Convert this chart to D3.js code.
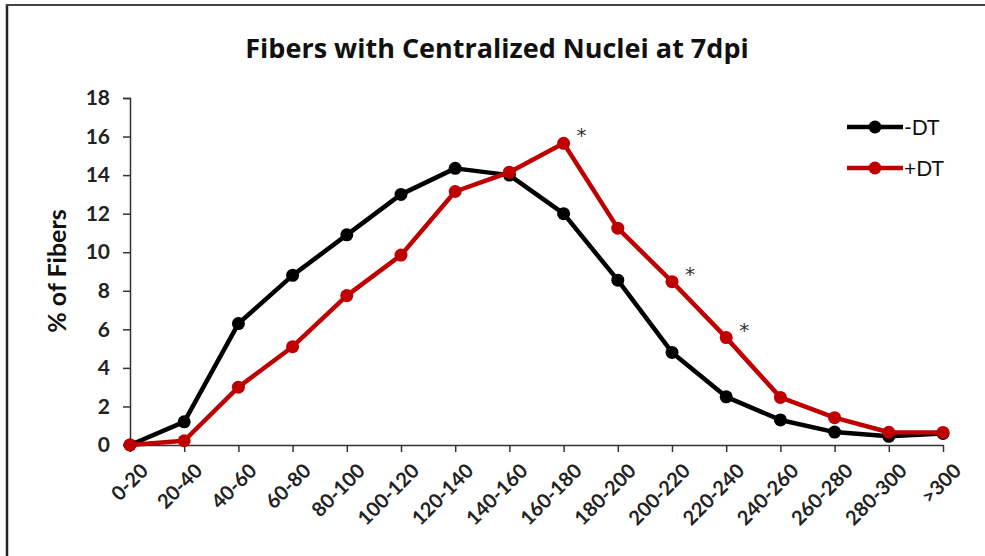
<!DOCTYPE html>
<html>
<head>
<meta charset="utf-8">
<script src="https://cdn.jsdelivr.net/npm/d3@7"></script>
<style>
  body { margin: 0; background: #fff; }
  svg { display: block; font-family: Lato, "Open Sans", sans-serif; }
</style>
</head>
<body>
<script>
// data
var categories = ["0-20", "20-40", "40-60", "60-80", "80-100", "100-120", "120-140", "140-160",
    "160-180", "180-200", "200-220", "220-240", "240-260", "260-280", "280-300", ">300"];
var minusDT = [0, 1.2, 6.3, 8.8, 10.9, 13.0, 14.35, 14.0, 12.0, 8.55, 4.8, 2.5, 1.3, 0.67, 0.45, 0.6];
var plusDT = [0, 0.22, 3.0, 5.1, 7.75, 9.85, 13.15, 14.15, 15.65, 11.25, 8.47, 5.57, 2.47, 1.42, 0.66, 0.65];
var yTicks = [0, 2, 4, 6, 8, 10, 12, 14, 16, 18];
var starred = ["160-180", "200-220", "220-240"];

var width = 985, height = 556;
var margin = { left: 130, right: 42, top: 98, bottom: 111 };

var svg = d3.select("body").append("svg")
    .attr("width", width)
    .attr("height", height);

// frame (left and top edges only, as in the cropped screenshot)
svg.append("line").attr("x1", 7).attr("x2", 7).attr("y1", 4).attr("y2", height)
    .attr("stroke", "#222").attr("stroke-width", 2.5);
svg.append("line").attr("x1", 6).attr("x2", width).attr("y1", 5).attr("y2", 5)
    .attr("stroke", "#444").attr("stroke-width", 2);

var x = d3.scalePoint()
    .domain(categories)
    .range([margin.left, width - margin.right]);

var y = d3.scaleLinear()
    .domain([0, 18])
    .range([height - margin.bottom, margin.top]);

// title
svg.append("text")
    .attr("x", 497)
    .attr("y", 58)
    .attr("text-anchor", "middle")
    .attr("font-size", "27px")
    .attr("font-weight", "bold")
    .attr("font-family", "'Open Sans', sans-serif")
    .attr("fill", "#111")
    .text("Fibers with Centralized Nuclei at 7dpi");

// y axis
var yAxis = svg.append("g")
    .attr("transform", "translate(" + margin.left + ",0)")
    .call(d3.axisLeft(y).tickValues(yTicks).tickSize(7).tickPadding(13));
yAxis.selectAll("text")
    .attr("font-size", "21px")
    .attr("font-weight", "bold")
    .attr("font-family", "Lato, sans-serif")
    .attr("fill", "#222");
yAxis.selectAll("line, path").attr("stroke", "#333").attr("stroke-width", 1.5);

// x axis
var xAxis = svg.append("g")
    .attr("transform", "translate(0," + y(0) + ")")
    .call(d3.axisBottom(x).tickSize(7).tickSizeOuter(0));
xAxis.selectAll("text")
    .attr("font-size", "20px")
    .attr("font-weight", "bold")
    .attr("font-family", "Lato, sans-serif")
    .attr("fill", "#222")
    .attr("text-anchor", "end")
    .attr("dy", "0.35em")
    .attr("transform", "translate(7,15) rotate(-45)");
xAxis.selectAll("line, path").attr("stroke", "#333").attr("stroke-width", 1.5);

// y axis title
svg.append("text")
    .attr("transform", "translate(66," + 271 + ") rotate(-90)")
    .attr("text-anchor", "middle")
    .attr("font-size", "25px")
    .attr("font-weight", "bold")
    .attr("fill", "#111")
    .text("% of Fibers");

var series = [
    { name: "-DT", values: minusDT, color: "#000000" },
    { name: "+DT", values: plusDT, color: "#c00000" }
];

var line = d3.line()
    .x(function (d, i) { return x(categories[i]); })
    .y(function (d) { return y(d); });

series.forEach(function (s) {
    svg.append("path")
        .datum(s.values)
        .attr("fill", "none")
        .attr("stroke", s.color)
        .attr("stroke-width", 4.5)
        .attr("stroke-linejoin", "round")
        .attr("d", line);

    svg.selectAll(".dot-" + s.name)
        .data(s.values)
        .enter()
        .append("circle")
        .attr("cx", function (d, i) { return x(categories[i]); })
        .attr("cy", function (d) { return y(d); })
        .attr("r", 6.5)
        .attr("fill", s.color);
});

// significance markers above the +DT points
starred.forEach(function (c) {
    var i = categories.indexOf(c);
    svg.append("text")
        .attr("x", x(c) + 18)
        .attr("y", y(plusDT[i]) - 1)
        .attr("text-anchor", "middle")
        .attr("font-size", "20px")
        .attr("font-family", "'DejaVu Sans', sans-serif")
        .attr("fill", "#333")
        .text("*");
});

// legend
var legend = svg.append("g").attr("transform", "translate(847,127)");
series.forEach(function (s, i) {
    var g = legend.append("g").attr("transform", "translate(0," + (i * 41) + ")");
    g.append("line")
        .attr("x1", 0).attr("x2", 56)
        .attr("stroke", s.color).attr("stroke-width", 4.5);
    g.append("circle").attr("cx", 28).attr("r", 6.5).attr("fill", s.color);
    g.append("text")
        .attr("x", 57)
        .attr("dy", "0.36em")
        .attr("font-size", "21px")
        .attr("fill", "#111")
        .text(s.name);
});
</script>
</body>
</html>
